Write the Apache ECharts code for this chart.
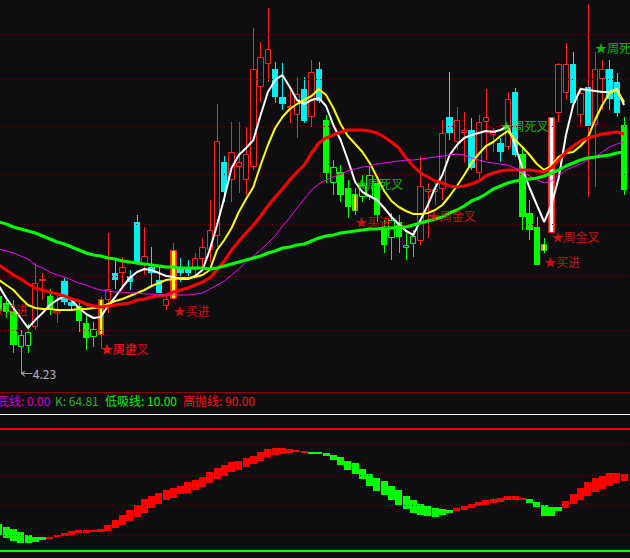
<!DOCTYPE html>
<html><head><meta charset="utf-8">
<script src="https://cdn.jsdelivr.net/npm/echarts@6.0.0/dist/echarts.min.js"></script>
<style>html,body{margin:0;padding:0;background:#0e0e11;}#c{width:630px;height:558px;}</style>
</head><body><div id="c"></div>
<script>
// ---- data ----
// candles: [open, close, low, high]
const candles = [
[5.78,5.48,5.34,5.90],[5.64,5.46,5.34,5.74],[5.48,4.80,4.64,5.70],[4.76,5.00,4.23,5.10],[4.78,5.06,4.64,5.22],
[5.16,6.04,5.10,6.44],[6.08,6.12,5.70,6.24],[5.78,5.52,5.40,5.92],[5.46,5.48,5.24,5.80],[6.08,5.66,5.60,6.14],
[5.66,5.58,5.50,5.70],[5.58,5.28,5.06,5.70],[5.24,4.94,4.70,5.40],[4.96,5.12,4.76,5.26],[5.00,5.72,4.74,5.76],
[5.70,5.92,5.44,7.04],[6.24,6.10,5.92,6.50],[6.24,6.36,5.90,6.56],[6.18,6.06,5.90,6.30],[7.26,6.46,6.40,7.40],
[6.42,6.58,6.20,7.16],[6.36,6.24,5.96,6.76],[6.10,5.84,5.84,6.36],[5.58,5.72,5.50,5.84],[5.72,6.70,5.70,6.84],
[6.34,6.24,6.06,6.54],[6.34,6.24,6.14,6.50],[6.30,6.54,6.20,6.64],[6.52,6.76,6.36,6.94],[6.70,7.10,6.46,7.70],
[6.98,8.88,6.76,9.62],[8.46,7.86,7.66,8.58],[8.10,8.66,7.66,9.26],[8.36,8.46,7.84,9.26],[8.10,8.62,7.80,9.16],
[8.36,10.32,8.30,11.14],[9.96,10.56,9.66,10.86],[10.42,10.72,10.06,11.54],[10.32,9.76,9.64,10.46],[9.76,9.62,9.50,10.44],
[9.54,9.58,9.24,9.94],[9.40,9.82,8.94,10.16],[9.92,9.28,9.24,10.16],[9.36,10.26,9.16,10.50],[10.32,9.68,9.64,10.46],
[9.30,8.24,8.04,9.40],[8.04,8.36,7.80,8.50],[8.26,7.80,7.66,8.40],[7.94,7.56,7.34,8.10],[7.48,7.82,7.40,7.94],
[7.76,8.00,7.66,8.20],[7.76,8.20,7.70,8.36],[8.04,7.40,7.26,8.14],[7.16,6.80,6.64,7.30],[6.94,7.30,6.50,7.44],
[7.26,6.96,6.64,7.40],[6.74,6.80,6.50,7.04],[6.82,6.98,6.56,7.10],[6.88,7.98,6.80,8.58],[7.86,7.92,6.94,8.04],
[7.86,7.92,7.60,8.04],[7.92,9.04,7.70,9.30],[9.36,9.04,8.90,10.26],[8.86,9.30,8.70,9.56],[9.04,9.10,8.44,9.46],
[9.10,8.34,8.30,9.34],[8.24,9.26,8.10,9.40],[9.26,9.36,8.50,9.92],[9.00,9.10,8.66,9.14],[8.84,8.66,8.46,8.94],
[8.76,9.72,8.70,9.86],[9.86,8.60,8.56,9.94],[8.62,7.36,7.10,8.74],[7.44,7.10,6.90,7.70],[7.16,6.40,6.40,7.36],
[6.68,6.82,6.64,6.94],[7.04,9.36,7.04,9.36],[9.44,10.42,9.26,10.44],[9.84,10.42,9.70,10.84],[10.42,9.64,9.60,10.66],
[9.40,9.84,9.20,9.96],[9.96,9.18,7.76,11.62],[9.20,10.32,7.96,10.66],[10.12,10.32,9.50,10.50],[10.32,9.72,9.50,10.50],
[10.06,9.44,9.36,10.24],[9.20,7.90,7.80,9.36]
];
const weakDays = [0,1,2,3,4,7,11,12,13,45,46,47,48,49,50,51,52,53,54,55,56,57,72,73,74,75,86];
const yellowStickDays = [14,24,49,75];
const whiteStickDays = [76];
const redWickDays = [81];

const maWhite = [5.98,5.74,5.54,5.34,5.14,5.30,5.44,5.60,5.70,5.78,5.70,5.54,5.42,5.34,5.36,5.58,5.76,5.96,6.14,6.26,
6.32,6.30,6.24,6.18,6.16,6.12,6.12,6.18,6.30,6.70,7.20,7.74,8.34,8.60,8.74,8.90,9.40,9.86,10.10,10.20,
9.96,9.70,9.62,9.70,9.74,9.58,9.20,8.90,8.50,8.06,7.86,7.78,7.70,7.54,7.36,7.22,7.08,7.00,7.30,7.60,
7.94,8.20,8.60,8.80,8.94,9.00,9.04,9.08,9.06,9.10,9.18,8.80,8.34,7.94,7.60,7.26,7.60,8.14,9.00,9.60,
9.92,9.90,9.88,9.86,9.86,9.92,9.60];
const maYellow = [6.10,6.00,5.90,5.74,5.60,5.54,5.52,5.52,5.50,5.50,5.50,5.52,5.52,5.54,5.56,5.62,5.68,5.72,5.78,5.84,
5.90,5.98,6.04,6.10,6.12,6.14,6.14,6.16,6.20,6.30,6.70,6.90,7.14,7.46,7.72,7.96,8.40,8.80,9.14,9.36,
9.52,9.62,9.70,9.78,9.92,9.80,9.54,9.22,8.98,8.82,8.66,8.44,8.16,7.88,7.68,7.56,7.48,7.42,7.42,7.44,
7.50,7.60,7.78,7.98,8.20,8.44,8.62,8.78,8.86,8.98,9.08,8.90,8.76,8.60,8.42,8.30,8.38,8.56,8.64,8.66,
8.78,8.94,9.30,9.60,9.84,9.90,9.66];
const maRed = [6.40,6.30,6.20,6.12,6.02,5.94,5.90,5.86,5.82,5.78,5.72,5.68,5.62,5.58,5.56,5.58,5.60,5.62,5.64,5.70,
5.72,5.76,5.78,5.80,5.86,5.90,5.94,6.00,6.06,6.14,6.30,6.48,6.70,6.88,7.04,7.20,7.38,7.58,7.76,7.92,
8.10,8.26,8.40,8.64,8.84,8.94,9.00,9.06,9.10,9.10,9.10,9.08,9.04,8.96,8.86,8.74,8.54,8.38,8.24,8.16,
8.08,8.04,7.98,7.96,7.98,8.02,8.08,8.18,8.24,8.28,8.30,8.30,8.30,8.30,8.28,8.26,8.34,8.50,8.66,8.78,
8.88,8.94,8.98,9.02,9.04,9.06,9.02];
const maMagenta = [6.72,6.68,6.64,6.58,6.52,6.40,6.34,6.26,6.20,6.16,6.10,6.04,6.00,5.94,5.90,5.88,5.86,5.86,5.84,5.84,
5.82,5.82,5.80,5.80,5.80,5.80,5.80,5.82,5.84,5.92,6.00,6.08,6.20,6.32,6.46,6.58,6.70,6.84,6.98,7.18,
7.34,7.54,7.72,7.90,8.02,8.10,8.16,8.22,8.28,8.32,8.36,8.38,8.42,8.44,8.46,8.48,8.50,8.50,8.52,8.54,
8.56,8.58,8.60,8.62,8.60,8.54,8.50,8.46,8.44,8.42,8.40,8.34,8.26,8.18,8.10,8.04,8.08,8.20,8.30,8.36,
8.42,8.50,8.56,8.66,8.76,8.82,8.86];
const maGreen = [7.26,7.22,7.16,7.12,7.08,7.04,6.98,6.92,6.86,6.82,6.76,6.70,6.64,6.60,6.58,6.54,6.52,6.48,6.46,6.44,
6.42,6.40,6.38,6.36,6.36,6.34,6.34,6.34,6.34,6.32,6.34,6.38,6.42,6.46,6.50,6.54,6.58,6.64,6.68,6.74,
6.76,6.80,6.82,6.88,6.94,6.98,7.00,7.04,7.06,7.08,7.10,7.12,7.12,7.14,7.14,7.16,7.16,7.20,7.24,7.28,
7.32,7.36,7.44,7.50,7.58,7.68,7.74,7.82,7.92,7.98,8.04,8.08,8.10,8.12,8.14,8.18,8.24,8.30,8.38,8.44,
8.50,8.54,8.56,8.58,8.60,8.64,8.66];

// oscillator (sub panel): K and D per day
const oscK = [20.3,18.1,16.5,15.2,14.8,15.5,17.0,19.2,20.7,21.8,22.9,23.5,23.7,23.9,24.5,27.3,30.1,33.3,37.1,39.9,
44.2,45.8,47.9,50.1,51.2,52.9,55.1,56.7,58.8,61.6,64.5,66.5,68.2,69.3,71.0,72.5,74.7,76.7,77.6,77.6,
77.1,76.3,75.6,74.1,73.6,72.5,69.7,66.7,63.2,60.6,57.3,52.9,49.2,46.4,43.1,39.9,37.3,34.8,33.3,32.7,
32.2,33.3,34.8,38.1,39.7,41.0,42.0,43.1,44.4,44.9,45.8,46.2,44.9,41.6,38.8,32.7,32.7,36.1,42.7,47.5,
51.4,55.1,58.0,59.5,61.0,61.4,60.6];
const oscD = [27.9,25.7,24.2,22.4,20.1,19.2,18.8,17.8,18.8,19.8,20.7,21.6,22.0,22.2,22.6,23.1,25.0,27.3,29.4,32.2,
34.8,38.4,40.5,43.1,44.9,47.1,47.9,50.1,52.3,54.4,57.3,59.5,62.1,63.4,65.4,67.1,69.3,71.4,73.0,73.7,
74.3,74.7,74.5,75.2,75.0,74.5,73.2,71.4,69.3,67.5,63.9,60.6,58.0,55.6,52.9,49.7,45.9,43.6,41.0,39.4,
38.4,37.3,37.1,36.1,37.1,38.4,39.2,40.3,41.4,42.0,43.1,43.6,43.6,43.8,42.0,39.9,38.8,38.8,38.4,41.0,
43.6,45.8,48.6,50.8,52.9,54.4,55.8];

const priceGridLevels = [11.01,10.11,9.17,8.22,7.21,6.17,5.10];
const oscGridLevels = [20,40,60,80];
const oscTop = 100, oscHigh = 90, oscLow = 10;

const signals = [
  {day:0, price:5.52, text:'★买进', kind:'buy'},
  {day:14, price:4.74, text:'★周金叉', kind:'buy'},
  {day:14, price:4.74, text:'★买进', kind:'buy'},
  {day:24, price:5.50, text:'★买进', kind:'buy'},
  {day:49, price:8.04, text:'★周死叉', kind:'sell'},
  {day:49, price:7.28, text:'★买进', kind:'buy'},
  {day:59, price:7.40, text:'★周金叉', kind:'buy'},
  {day:69, price:9.20, text:'★周死叉', kind:'sell'},
  {day:75, price:6.48, text:'★买进', kind:'buy'},
  {day:76, price:6.98, text:'★周金叉', kind:'buy'},
  {day:82, price:10.76, text:'★周死叉', kind:'sell'}
];
const lowMark = {day:3, price:4.23, text:'←4.23'};

// ---- chart ----
const BG = '#0e0e11', RED = '#ff2020', CYAN = '#00f0f0', GREEN = '#00ff00', YEL = '#ffff00';
const FONT = '"Noto Sans CJK SC","Noto Sans",sans-serif';
const DAY_MIN = 0.1465, DAY_MAX = 86.81;   // visible day range (value x axis)
const EDGE_DAY = 1;                         // first day fully inside the plot, used to anchor labels of day 0

const candleData = candles.map((c, i) => [i, c[0], c[1], c[2], c[3],
  weakDays.includes(i) ? 1 : 0,
  yellowStickDays.includes(i) ? 1 : (whiteStickDays.includes(i) ? 2 : 0),
  redWickDays.includes(i) ? 1 : 0]);

function renderCandle(params, api) {
  const i = api.value(0), o = api.value(1), c = api.value(2), l = api.value(3), h = api.value(4);
  const weak = api.value(5), stick = api.value(6), redWick = api.value(7);
  const pO = api.coord([i, o]), pC = api.coord([i, c]), pL = api.coord([i, l]), pH = api.coord([i, h]);
  const cx = pO[0];
  const L = Math.round(cx - 3.2), R = Math.round(cx + 3.2);
  const up = c >= o;
  const col = weak ? GREEN : (up ? RED : CYAN);
  const wcol = redWick ? RED : col;
  const top = Math.round(Math.min(pO[1], pC[1])), bot = Math.round(Math.max(pO[1], pC[1]));
  const wx = L + Math.floor((R - L) / 2) + 0.5;
  const ch = [];
  ch.push({type:'line', shape:{x1:wx, y1:Math.round(pH[1]), x2:wx, y2:top}, style:{stroke:wcol, lineWidth:1}});
  ch.push({type:'line', shape:{x1:wx, y1:bot, x2:wx, y2:Math.round(pL[1])}, style:{stroke:wcol, lineWidth:1}});
  if (bot - top < 2) {
    ch.push({type:'rect', shape:{x:L, y:top, width:R - L, height:Math.max(bot - top, 1) + 1}, style:up ? {fill:BG, stroke:col, lineWidth:1} : {fill:col}});
  } else if (up) {
    ch.push({type:'rect', shape:{x:L + 0.5, y:top + 0.5, width:R - L - 1, height:bot - top - 1}, style:{fill:BG, stroke:col, lineWidth:1}});
  } else {
    ch.push({type:'rect', shape:{x:L, y:top, width:R - L, height:bot - top}, style:{fill:col}});
  }
  if (stick) {
    ch.push({type:'rect', shape:{x:L + 1.5, y:top + 1, width:R - L - 3, height:Math.max(bot - top - 2, 1)}, style:{fill: stick === 1 ? YEL : '#ffffff'}});
  }
  return {type:'group', children:ch};
}

const oscData = oscK.map((k, i) => [i, k, oscD[i]]);
function renderOsc(params, api) {
  const i = api.value(0), k = api.value(1), d = api.value(2);
  const pk = api.coord([i, k]), pd = api.coord([i, d]);
  const L = Math.round(pk[0] - 3.5);
  const top = Math.round(Math.min(pk[1], pd[1])), bot = Math.round(Math.max(pk[1], pd[1]));
  return {type:'rect', shape:{x:L, y:top, width:7, height:Math.max(bot - top, 2)},
    style:{fill: k >= d ? '#ff0000' : '#00ff00'}};
}

// day 0 lies partly outside the plot; its label is anchored one day later and shifted back
const dayPx = 630 / (DAY_MAX - DAY_MIN);
const signalData = signals.map(s => ({
  value:[Math.max(s.day, EDGE_DAY), s.price],
  label:{color: s.kind === 'buy' ? '#ff1010' : '#10e010',
    offset: s.day < EDGE_DAY ? [-(EDGE_DAY - s.day) * dayPx - 7, 0] : [0, 0]}
}));

function lineSeries(name, arr, color, width) {
  return {type:'line', name, data: arr.map((v, i) => [i, v]), xAxisIndex:0, yAxisIndex:0, symbol:'none', z:5,
    lineStyle:{color, width}, silent:true};
}

const chart = echarts.init(document.getElementById('c'), null, {renderer:'svg'});
chart.setOption({
  backgroundColor: BG,
  animation:false,
  grid:[
    {left:0, top:0, width:630, height:392, outerBoundsMode:'none'},
    {left:0, top:414, width:630, height:144, outerBoundsMode:'none'}
  ],
  xAxis:[
    {type:'value', gridIndex:0, min:DAY_MIN, max:DAY_MAX,
      axisLine:{show:true, onZero:false, lineStyle:{color:'#8a0000', width:1}}, axisTick:{show:false}, axisLabel:{show:false}, splitLine:{show:false}},
    {type:'value', gridIndex:1, min:DAY_MIN, max:DAY_MAX, show:false, splitLine:{show:false}}
  ],
  yAxis:[
    {type:'value', gridIndex:0, min:3.86, max:11.7, show:false, splitLine:{show:false}},
    {type:'value', gridIndex:1, min:5.26, max:100, show:false, splitLine:{show:false}}
  ],
  series:[
    {type:'line', name:'grid', data:[], xAxisIndex:0, yAxisIndex:0, z:1, silent:true,
      markLine:{silent:true, symbol:'none', label:{show:false},
        lineStyle:{color:'#7a0000', width:1, type:[1,3]},
        data: priceGridLevels.map(v => ({yAxis:v}))}},
    {type:'custom', name:'K', renderItem:renderCandle, data:candleData, xAxisIndex:0, yAxisIndex:0, z:3,
      encode:{x:0, y:[1,2,3,4]}, silent:true, clip:true},
    lineSeries('MA5', maWhite, '#ffffff', 2),
    lineSeries('MA10', maYellow, '#ffff00', 2),
    lineSeries('MA20', maRed, '#ff0000', 3),
    lineSeries('MA60', maMagenta, '#ff00ff', 1),
    lineSeries('MA120', maGreen, '#00ff00', 3),
    {type:'scatter', name:'signals', data:signalData, xAxisIndex:0, yAxisIndex:0, symbolSize:0, z:8, silent:true,
      label:{show:true, position:'right', distance:0, formatter:p => signals[p.dataIndex].text,
        fontSize:12, fontFamily:FONT}},
    {type:'scatter', name:'low', data:[[lowMark.day, lowMark.price]], xAxisIndex:0, yAxisIndex:0, symbolSize:0, z:8, silent:true,
      label:{show:true, position:'right', distance:0, formatter:lowMark.text, color:'#e0e0e0', fontSize:12, fontFamily:FONT}},
    {type:'line', name:'oscgrid', data:[], xAxisIndex:1, yAxisIndex:1, z:1, silent:true,
      markLine:{silent:true, symbol:'none', label:{show:false},
        data:[
          ...oscGridLevels.map(v => ({yAxis:v, lineStyle:{color:'#7a0000', width:1, type:[1,3]}})),
          {yAxis:oscTop, lineStyle:{color:'#ffffff', width:1, type:'solid'}},
          {yAxis:oscHigh, lineStyle:{color:'#ff0000', width:2, type:'solid'}},
          {yAxis:oscLow, lineStyle:{color:'#00ff00', width:2, type:'solid'}}
        ]}},
    {type:'custom', name:'osc', renderItem:renderOsc, data:oscData, xAxisIndex:1, yAxisIndex:1, z:3,
      encode:{x:0, y:[1,2]}, silent:true}
  ],
  graphic:[
    {type:'text', x:-3, y:400, style:{text:'底线: 0.00', fill:'#cc00cc', font:'12px ' + FONT, textVerticalAlign:'middle'}},
    {type:'text', x:55, y:400, style:{text:'K: 64.81', fill:'#30b030', font:'12px ' + FONT, textVerticalAlign:'middle'}},
    {type:'text', x:105, y:400, style:{text:'低吸线: 10.00', fill:'#10ee10', font:'12px ' + FONT, textVerticalAlign:'middle'}},
    {type:'text', x:183, y:400, style:{text:'高抛线: 90.00', fill:'#ff1010', font:'12px ' + FONT, textVerticalAlign:'middle'}}
  ]
});
</script></body></html>
